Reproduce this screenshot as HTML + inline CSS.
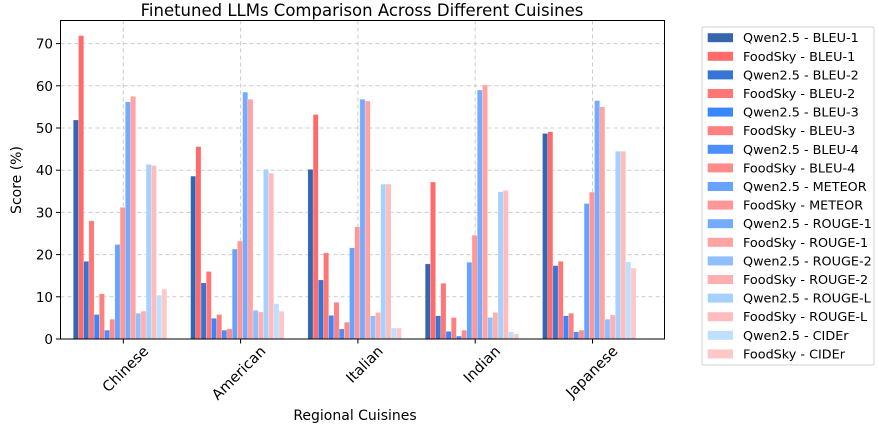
<!DOCTYPE html>
<html><head><meta charset="utf-8"><style>
html,body{margin:0;padding:0;background:#fff;}
svg{display:block;font-family:"DejaVu Sans","Liberation Sans",sans-serif;}
</style></head><body>
<svg width="879" height="427" viewBox="0 0 879 427" xmlns="http://www.w3.org/2000/svg">
<rect width="879" height="427" fill="#fff"/>
<text x="362" y="16" font-size="16.5" text-anchor="middle" fill="#000">Finetuned LLMs Comparison Across Different Cuisines</text>
<g id="grid" stroke="#cccccc" stroke-width="1" stroke-dasharray="4,3"></g>
<g id="bars"></g>
<rect x="60.5" y="20.5" width="604" height="318.5" fill="none" stroke="#000" stroke-width="1"/>
<g id="ticks" font-size="13.5" fill="#000"></g>
<text x="355" y="420" font-size="14" text-anchor="middle">Regional Cuisines</text>
<text transform="translate(21,180) rotate(-90)" font-size="14" text-anchor="middle">Score (%)</text>
<rect x="702" y="27" width="172" height="338" fill="#fff" stroke="#d0d0d0" stroke-width="1" rx="2"/>
<g id="legend" font-size="12.8"></g>
</svg>
<script>
const ns="http://www.w3.org/2000/svg";
function el(p,t,a,txt){const e=document.createElementNS(ns,t);for(const k in a)e.setAttribute(k,a[k]);if(txt!==undefined)e.textContent=txt;document.getElementById(p).appendChild(e);}
const q=["#3465ad","#3675d4","#3a86ff","#4a8ffd","#65a3ff","#74abff","#8ebfff","#a6d1fe","#bde0fe"];
const f=["#ff6b6b","#ff7676","#ff8080","#ff8b8b","#ff9797","#ffa3a3","#ffafaf","#ffbcbc","#ffc8c8"];
const met=["BLEU-1","BLEU-2","BLEU-3","BLEU-4","METEOR","ROUGE-1","ROUGE-2","ROUGE-L","CIDEr"];
const cols=[],labs=[];
for(let i=0;i<9;i++){cols.push(q[i],f[i]);labs.push("Qwen2.5 - "+met[i],"FoodSky - "+met[i]);}
const data=[
[51.9,71.9,18.4,28.0,5.8,10.7,2.1,4.7,22.4,31.2,56.2,57.5,6.1,6.6,41.4,41.1,10.4,11.8],
[38.6,45.6,13.3,16.0,4.9,5.8,2.1,2.4,21.3,23.2,58.5,56.8,6.8,6.4,40.2,39.3,8.4,6.6],
[40.2,53.2,14.0,20.4,5.6,8.7,2.4,4.0,21.6,26.6,56.8,56.4,5.5,6.3,36.7,36.7,2.6,2.6],
[17.8,37.2,5.5,13.2,1.8,5.1,0.7,2.1,18.2,24.6,59.0,60.2,5.1,6.3,34.9,35.2,1.7,1.2],
[48.7,49.1,17.4,18.4,5.5,6.1,1.7,2.1,32.1,34.8,56.5,55.0,4.7,5.7,44.5,44.5,18.3,16.8]];
const names=["Chinese","American","Italian","Indian","Japanese"];
const y0=339,ppu=4.22;
for(let v=0;v<=70;v+=10){const y=y0-v*ppu;
 if(v>0)el("grid","line",{x1:60.5,x2:664.5,y1:y,y2:y});
 el("ticks","line",{x1:56,x2:60.5,y1:y,y2:y,stroke:"#000"});
 el("ticks","text",{x:53,y:y+5,"text-anchor":"end"},String(v));}
const bw=5.2;
names.forEach((n,g)=>{const tick=123.3+g*117.3;const s=tick-50;
 el("grid","line",{x1:tick,x2:tick,y1:20.5,y2:339});
 data[g].forEach((v,i)=>{const h=v*ppu;el("bars","rect",{x:s+i*bw,y:y0-h,width:bw,height:h,fill:cols[i],stroke:"#fff","stroke-width":0.4,"stroke-opacity":0.6});});
 el("ticks","line",{x1:tick,x2:tick,y1:339,y2:343.5,stroke:"#000"});
 el("ticks","text",{transform:`translate(${tick+26},352) rotate(-45)`,"text-anchor":"end","font-size":"14.5"},n);
});
labs.forEach((l,i)=>{const cy=37.7+i*18.6;
 el("legend","rect",{x:707.7,y:cy-4.5,width:25.3,height:9,fill:cols[i]});
 el("legend","text",{x:743,y:cy+4.5,fill:"#000"},l);});
</script>
</body></html>
